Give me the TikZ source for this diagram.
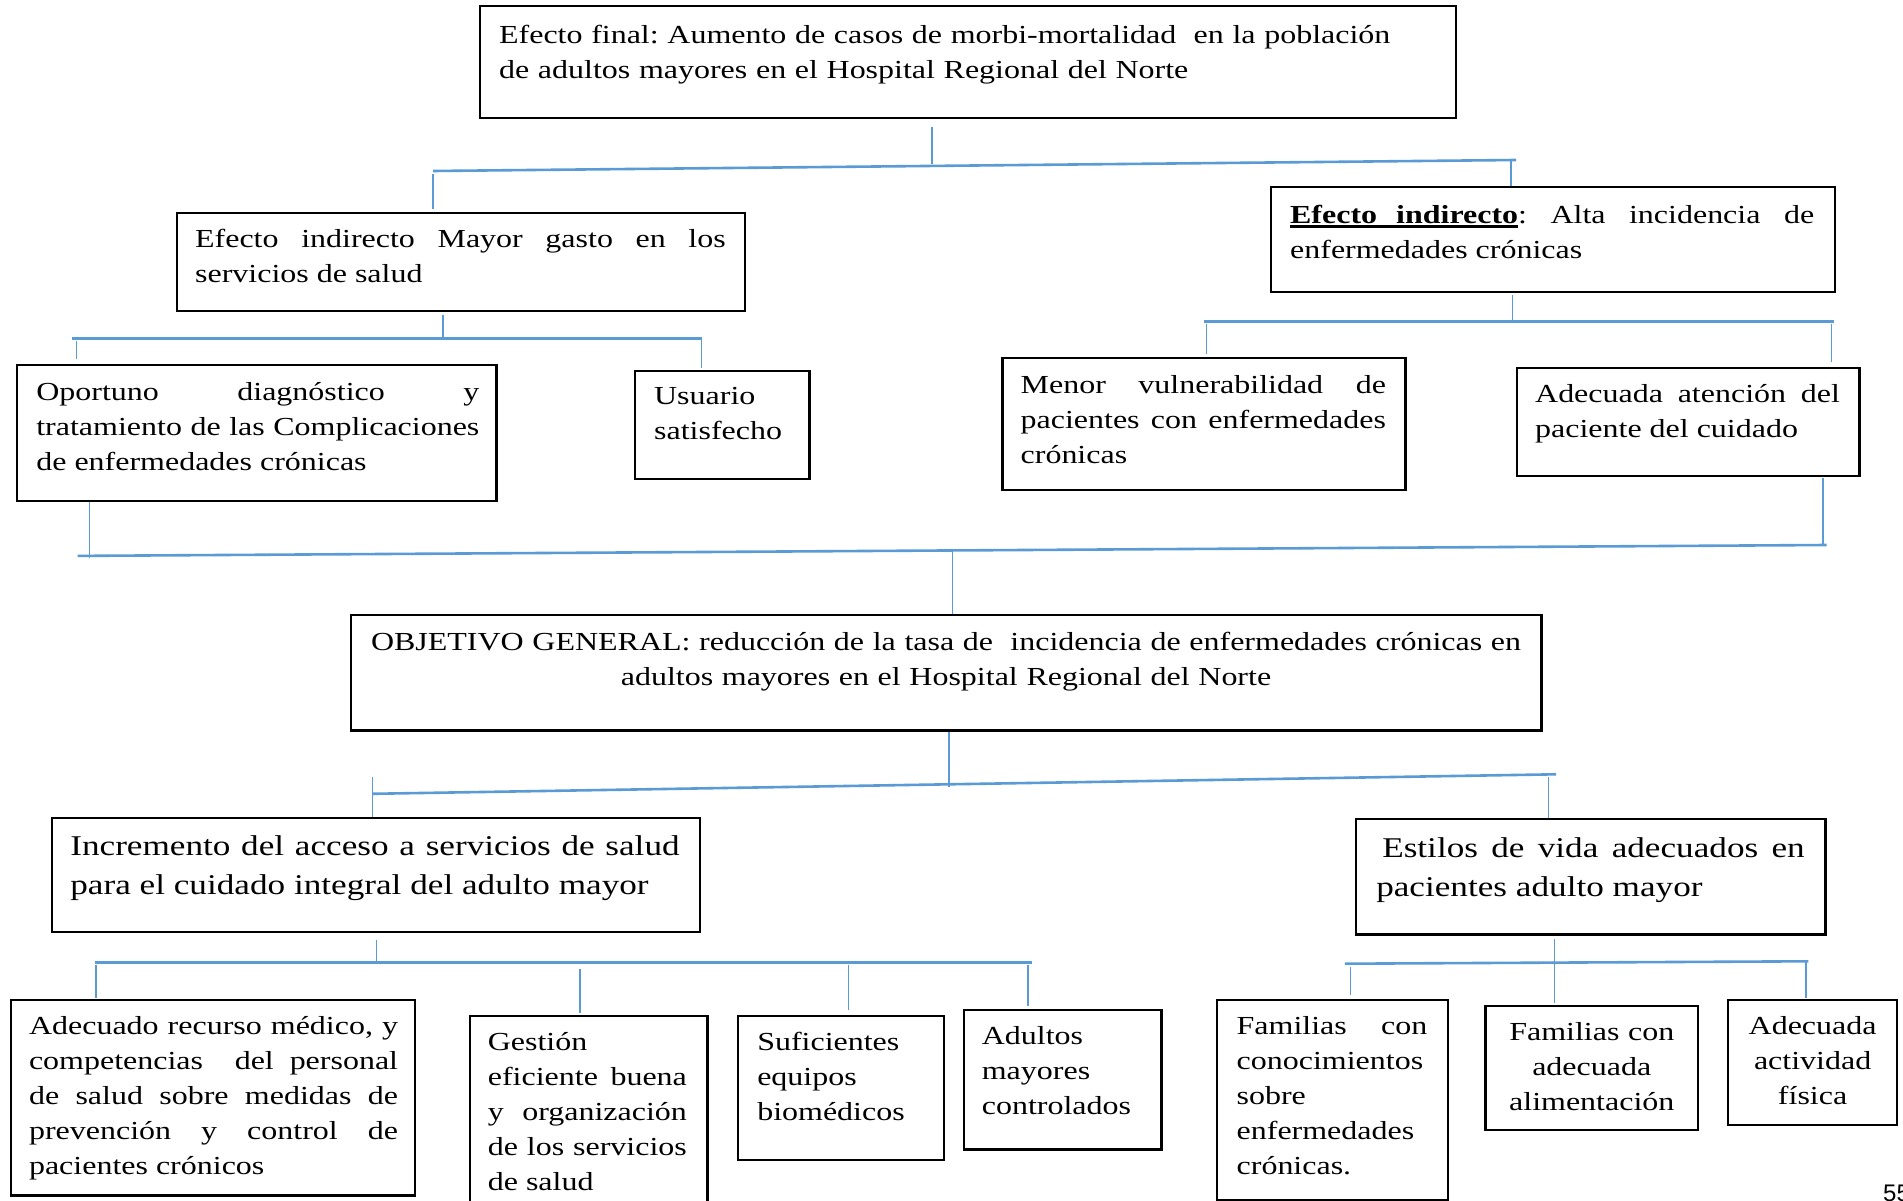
\documentclass[tikz,border=0pt]{standalone}
\usepackage{fontspec}
\setmainfont{Liberation Serif}[FakeStretch=1.23]
\newfontfamily\pagenumfont{Liberation Sans}
\definecolor{linkblue}{RGB}{91,155,213}
\newsavebox\ulbox
\newcommand\thickul[1]{\sbox\ulbox{#1}\rlap{\rule[-4.5pt]{\wd\ulbox}{2.4pt}}\usebox\ulbox}
\frenchspacing
\begin{document}
\begin{tikzpicture}[x=1pt,y=-1pt,
  bx/.style={draw, line width=2.3pt, anchor=north west, inner sep=0pt, font=\fontsize{26}{35}\selectfont},
  big/.style={font=\fontsize{28.6}{39}\selectfont},
  pad/.style 2 args={execute at begin node={\leftskip=#1pt\rightskip=#2pt\relax\hyphenpenalty=10000}},
  stem/.style={draw=linkblue, line width=1.3pt},
  bus/.style={draw=linkblue, line width=2.6pt},
]
\useasboundingbox (0,0) rectangle (1903,1201);
\fill[white] (0,0) rectangle (1903,1201);

% ---------- boxes ----------
\node[bx, align=left, pad={19}{0}, text width=976pt, text height=37pt, text depth=75pt] (top) at (479,5)
 {Efecto final: Aumento de casos de morbi-mortalidad\ \ en la población\\ de adultos mayores en el Hospital Regional del Norte};

\node[bx, align=justify, pad={18}{19.4}, text width=568pt, text height=34pt, text depth=63.5pt] (effL) at (176,212)
 {Efecto indirecto Mayor gasto en los\linebreak servicios de salud};

\node[bx, align=justify, pad={19.5}{21}, text width=564.5pt, text height=36.3pt, text depth=69pt] (effR) at (1269.5,185.7)
 {\thickul{\textbf{Efecto\hspace{19pt}indirecto}}: Alta incidencia de\linebreak enfermedades crónicas};

\node[bx, align=justify, pad={19.4}{17}, text width=479.4pt, text height=35pt, text depth=101pt] (opor) at (15.8,364)
 {Oportuno diagnóstico y\linebreak tratamiento de las Complicaciones\linebreak de enfermedades crónicas};

\node[bx, align=left, pad={19.4}{0}, text width=174.7pt, text height=33.7pt, text depth=74.3pt] (usu) at (633.6,370)
 {Usuario\\ satisfecho};

\node[bx, align=justify, pad={18.2}{19.5}, text width=403pt, text height=36pt, text depth=96.3pt] (menor) at (1001.3,356.8)
 {Menor vulnerabilidad de\linebreak pacientes con enfermedades\linebreak crónicas};

\node[bx, align=justify, pad={18}{19.4}, text width=342.2pt, text height=34.8pt, text depth=73.3pt] (adat) at (1516,366.5)
 {Adecuada atención del\linebreak paciente del cuidado};

\node[bx, align=center, text width=1190.7pt, text height=34.8pt, text depth=80.5pt] (obj) at (349.5,614.1)
 {OBJETIVO GENERAL: reducción de la tasa de\ \ incidencia de enfermedades crónicas en\\ adultos mayores en el Hospital Regional del Norte};

\node[bx, big, align=justify, pad={18.2}{20.5}, text width=648pt, text height=37.6pt, text depth=76.6pt] (inc) at (51,816.8)
 {Incremento del acceso a servicios de salud\linebreak para el cuidado integral del adulto mayor};

\node[bx, big, align=justify, pad={20.6}{20.6}, text width=469.7pt, text height=38.8pt, text depth=76.5pt] (est) at (1354.5,818)
 {\hspace*{6pt}Estilos de vida adecuados en\linebreak pacientes adulto mayor};

\node[bx, align=justify, pad={18.2}{17}, text width=404.2pt, text height=34.7pt, text depth=160.7pt] (adec) at (9.7,998.9)
 {Adecuado recurso médico, y\linebreak competencias\ \ del personal\linebreak de salud sobre medidas de\linebreak prevención y control de\linebreak pacientes crónicos};

\node[bx, align=justify, pad={18.2}{20.7}, text width=237.9pt, text height=34.7pt, text depth=165.6pt] (gest) at (468.5,1014.7)
 {Gestión\\ eficiente buena\linebreak y organización\linebreak de los servicios\linebreak de salud};

\node[bx, align=left, pad={19.4}{0}, text width=206.4pt, text height=34.7pt, text depth=109.7pt] (sufi) at (736.7,1014.7)
 {Suficientes\\ equipos\\ biomédicos};

\node[bx, align=left, pad={18.2}{0}, text width=197.8pt, text height=34.7pt, text depth=104.9pt] (adul) at (962.5,1008.6)
 {Adultos\\ mayores\\ controlados};

\node[bx, align=justify, pad={19.4}{20.6}, text width=230.6pt, text height=34.7pt, text depth=165.5pt] (famcon) at (1216.1,998.9)
 {Familias con\linebreak conocimientos\\ sobre\\ enfermedades\\ crónicas.};

\node[bx, align=center, text width=212.4pt, text height=34.7pt, text depth=89pt] (famad) at (1484.4,1005)
 {Familias con\\ adecuada\\ alimentación};

\node[bx, align=center, text width=168.7pt, text height=34.7pt, text depth=90.3pt] (act) at (1727.1,998.9)
 {Adecuada\\ actividad\\ física};

\node[anchor=north west, inner sep=0pt, font=\pagenumfont\fontsize{24}{24}\selectfont] (pg) at (1883,1185) {55};

% ---------- connectors: top ----------
\coordinate (sT) at (932,164);
\coordinate (bTL) at (433,171);
\coordinate (bTR) at (1516,160);
\coordinate (sTL) at (433,174);
\coordinate (sTR) at (1511,160.2);
\draw[stem, shorten <=8pt] (top.south -| sT) -- (sT);
\draw[bus] (bTL) -- (bTR);
\draw[stem, shorten >=3pt] (sTL) -- (sTL |- effL.north);
\draw[stem] (sTR) -- (sTR |- effR.north);

% under left effect
\coordinate (sL0) at (443,339.8);
\coordinate (bLL) at (71.6,338.6);
\coordinate (bLR) at (701.5,338.6);
\coordinate (sL1) at (76.5,341);
\coordinate (sL2) at (701.5,339.8);
\draw[stem, shorten <=3.5pt] (effL.south -| sL0) -- (sL0);
\draw[bus] (bLL) -- (bLR);
\draw[stem, shorten >=4.7pt] (sL1) -- (sL1 |- opor.north);
\draw[stem, shorten >=2.2pt] (sL2) -- (sL2 |- usu.north);

% under right effect
\coordinate (sR0) at (1512.3,321.6);
\coordinate (bRL) at (1204,321.6);
\coordinate (bRR) at (1834,321.6);
\coordinate (sR1) at (1206.4,324);
\coordinate (sR2) at (1831.5,324);
\draw[stem, shorten <=1.5pt] (effR.south -| sR0) -- (sR0);
\draw[bus] (bRL) -- (bRR);
\draw[stem, shorten >=2.4pt] (sR1) -- (sR1 |- menor.north);
\draw[stem, shorten >=4.8pt] (sR2) -- (sR2 |- adat.north);

% middle
\coordinate (sM1) at (89.8,558.3);
\coordinate (sM2) at (1823,545);
\coordinate (bML) at (77.7,555.9);
\coordinate (bMR) at (1826.6,545);
\coordinate (sM0) at (952.8,550.4);
\draw[stem] (opor.south -| sM1) -- (sM1);
\draw[stem, shorten <=1.2pt] (adat.south -| sM2) -- (sM2);
\draw[bus] (bML) -- (bMR);
\draw[stem] (sM0) -- (sM0 |- obj.north);

% below objective
\coordinate (sO0) at (949.1,786.5);
\coordinate (bOL) at (372.6,793.8);
\coordinate (bOR) at (1556,774.3);
\coordinate (sO1) at (372.6,776.8);
\coordinate (sO2) at (1548.7,776.8);
\draw[stem] (obj.south -| sO0) -- (sO0);
\draw[bus] (bOL) -- (bOR);
\draw[stem] (sO1) -- (sO1 |- inc.north);
\draw[stem] (sO2) -- (sO2 |- est.north);

% under Incremento
\coordinate (sI0) at (376.2,962.5);
\coordinate (bIL) at (94.7,962.5);
\coordinate (bIR) at (1031.6,962.5);
\coordinate (sI1) at (95.9,964.9);
\coordinate (sI2) at (580.1,968.5);
\coordinate (sI3) at (848.4,964.9);
\coordinate (sI4) at (1028,964.9);
\draw[stem, shorten <=7pt] (inc.south -| sI0) -- (sI0);
\draw[bus] (bIL) -- (bIR);
\draw[stem, shorten >=1.2pt] (sI1) -- (sI1 |- adec.north);
\draw[stem, shorten >=1.3pt] (sI2) -- (sI2 |- gest.north);
\draw[stem, shorten >=4.9pt] (sI3) -- (sI3 |- sufi.north);
\draw[stem, shorten >=2.4pt] (sI4) -- (sI4 |- adul.north);

% under Estilos
\coordinate (sE0) at (1554.7,937);
\coordinate (bEL) at (1344.8,963.7);
\coordinate (bER) at (1808.4,961.3);
\coordinate (sE1) at (1350.8,967.3);
\coordinate (sE2) at (1806,961.3);
\draw[stem, shorten <=3.7pt, shorten >=2.5pt] (est.south -| sE0) -- (sE0 |- famad.north);
\draw[bus] (bEL) -- (bER);
\draw[stem, shorten >=3.7pt] (sE1) -- (sE1 |- famcon.north);
\draw[stem, shorten >=1.2pt] (sE2) -- (sE2 |- act.north);
\end{tikzpicture}
\end{document}
